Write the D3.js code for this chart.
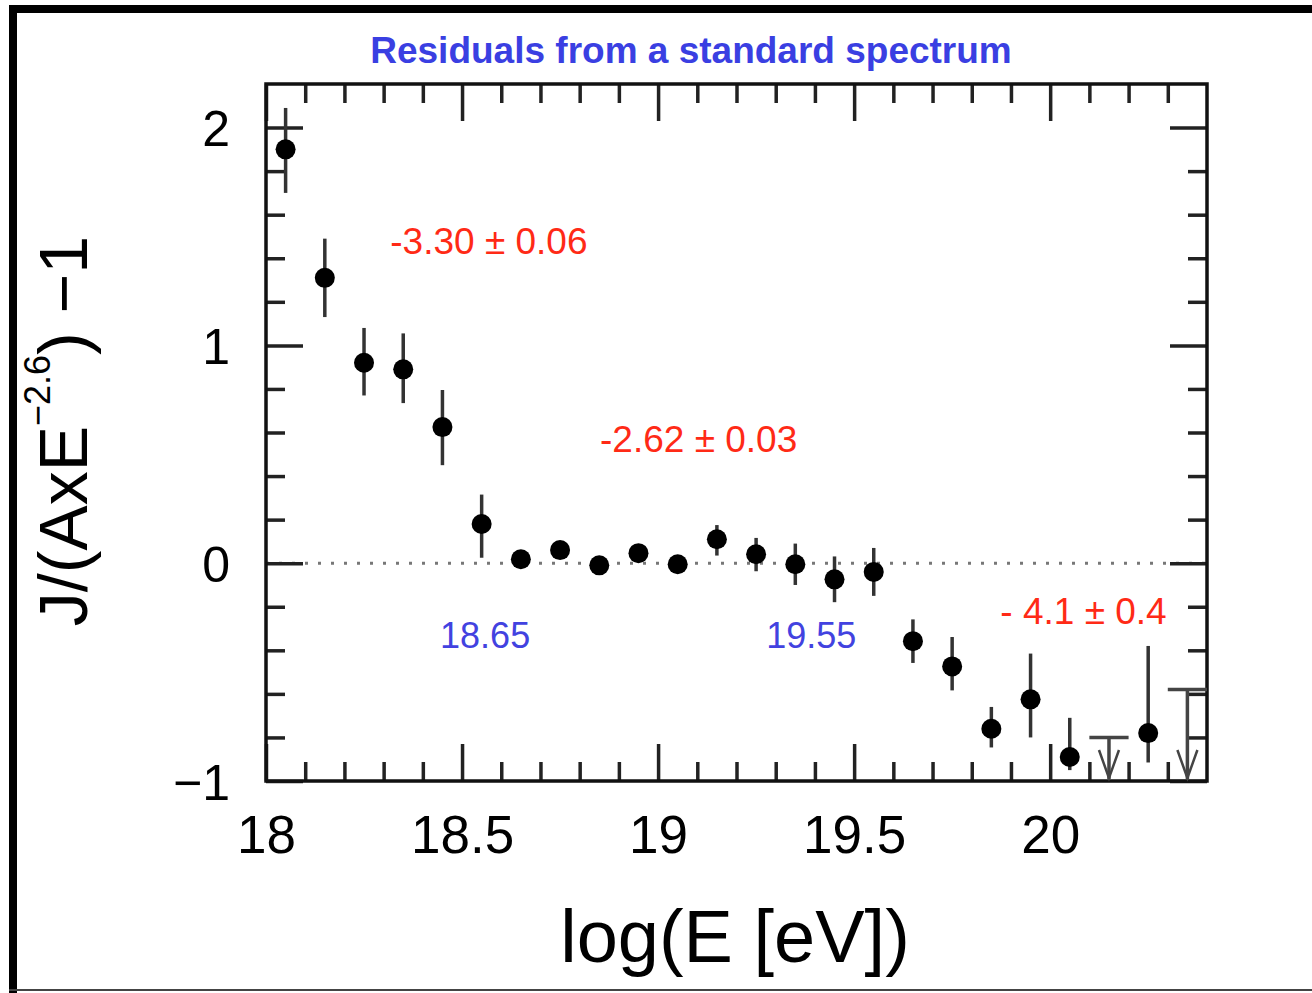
<!DOCTYPE html>
<html>
<head>
<meta charset="utf-8">
<script src="https://cdn.jsdelivr.net/npm/d3@7"></script>
<style>
  html, body { margin: 0; padding: 0; background: #fff; }
  svg { display: block; }
  text { font-family: "Liberation Sans", Arial, Helvetica, sans-serif; }
</style>
</head>
<body>
<svg id="chart" width="1312" height="993"></svg>
<script>
// ---- data ----
const logE   = [18.05, 18.15, 18.25, 18.35, 18.45, 18.55, 18.65, 18.75, 18.85, 18.95, 19.05,
                19.15, 19.25, 19.35, 19.45, 19.55, 19.65, 19.75, 19.85, 19.95, 20.05, 20.25];
const resid  = [1.90, 1.31, 0.92, 0.89, 0.625, 0.18, 0.018, 0.06, -0.01, 0.046, -0.005,
                0.11, 0.041, -0.005, -0.074, -0.04, -0.358, -0.474, -0.76, -0.625, -0.89, -0.78];
const errHi  = [0.19, 0.18, 0.16, 0.165, 0.17, 0.135, 0.03, 0.03, 0.03, 0.03, 0.03,
                0.065, 0.075, 0.095, 0.105, 0.11, 0.10, 0.135, 0.10, 0.21, 0.18, 0.40];
const errLo  = [0.20, 0.18, 0.15, 0.155, 0.175, 0.155, 0.03, 0.03, 0.03, 0.03, 0.03,
                0.075, 0.078, 0.095, 0.105, 0.11, 0.10, 0.11, 0.086, 0.175, 0.06, 0.135];
const limitE   = [20.15, 20.35];
const limitVal = [-0.80, -0.58];

const xMajorTicks = [18, 18.5, 19, 19.5, 20];
const xTickLabels = ["18", "18.5", "19", "19.5", "20"];
const yMajorTicks = [-1, 0, 1, 2];
const yTickLabels = ["\u22121", "0", "1", "2"];

const slopeLabels = [
  { text: "-3.30 \u00b1 0.06", x: 18.317, y: 1.42 },
  { text: "-2.62 \u00b1 0.03", x: 18.852, y: 0.51 },
  { text: "- 4.1 \u00b1 0.4",  x: 19.873, y: -0.28 }
];
const breakLabels = [
  { text: "18.65", x: 18.444, y: -0.39 },
  { text: "19.55", x: 19.276, y: -0.39 }
];
const title = "Residuals from a standard spectrum";

// ---- layout ----
const svg = d3.select("#chart");
const L = 266, R = 1207, T = 84, B = 781;

const x = d3.scaleLinear().domain([18, 20.4]).range([L, R]);
const y = d3.scaleLinear().domain([-1, 2.2]).range([B, T]);

// outer frame (picture border)
svg.append("line").attr("x1", 13).attr("x2", 13).attr("y1", 5).attr("y2", 993)
  .attr("stroke", "#000").attr("stroke-width", 8);
svg.append("line").attr("x1", 9).attr("x2", 1312).attr("y1", 9).attr("y2", 9)
  .attr("stroke", "#000").attr("stroke-width", 8);
svg.append("line").attr("x1", 9).attr("x2", 1312).attr("y1", 990).attr("y2", 990)
  .attr("stroke", "#444").attr("stroke-width", 2);

// title
svg.append("text").attr("x", 691).attr("y", 63).attr("text-anchor", "middle")
  .attr("font-size", 37).attr("font-weight", "bold").attr("fill", "#3a3fe2")
  .text(title);

// zero dotted line
svg.append("line").attr("x1", L).attr("x2", R).attr("y1", y(0)).attr("y2", y(0))
  .attr("stroke", "#777").attr("stroke-width", 3).attr("stroke-dasharray", "3,10");

// axes
const xMinor = d3.range(18.1, 20.35, 0.1).map(v => Math.round(v * 10) / 10)
  .filter(v => !xMajorTicks.includes(v));
const yMinor = d3.range(-0.8, 2.15, 0.2).map(v => Math.round(v * 10) / 10)
  .filter(v => !yMajorTicks.includes(v));

function styleAxis(g) {
  g.select(".domain").remove();
  g.selectAll(".tick line").attr("stroke", "#222").attr("stroke-width", 3.5);
  g.selectAll("text").attr("font-family", "'Liberation Sans', Arial, sans-serif").attr("fill", "#000");
}

// bottom
svg.append("g").attr("transform", `translate(0,${B})`)
  .call(d3.axisBottom(x).tickValues(xMajorTicks).tickSize(-37).tickPadding(34)
    .tickFormat((d, i) => xTickLabels[i]))
  .call(styleAxis)
  .call(g => g.selectAll("text").attr("font-size", 53));
svg.append("g").attr("transform", `translate(0,${B})`)
  .call(d3.axisBottom(x).tickValues(xMinor).tickSize(-19).tickFormat(""))
  .call(styleAxis);
// top
svg.append("g").attr("transform", `translate(0,${T})`)
  .call(d3.axisTop(x).tickValues(xMajorTicks).tickSize(-37).tickFormat(""))
  .call(styleAxis);
svg.append("g").attr("transform", `translate(0,${T})`)
  .call(d3.axisTop(x).tickValues(xMinor).tickSize(-19).tickFormat(""))
  .call(styleAxis);
// left
svg.append("g").attr("transform", `translate(${L},0)`)
  .call(d3.axisLeft(y).tickValues(yMajorTicks).tickSize(-37).tickPadding(36)
    .tickFormat((d, i) => yTickLabels[i]))
  .call(styleAxis)
  .call(g => g.selectAll("text").attr("font-size", 50).attr("dy", "0.36em"));
svg.append("g").attr("transform", `translate(${L},0)`)
  .call(d3.axisLeft(y).tickValues(yMinor).tickSize(-19).tickFormat(""))
  .call(styleAxis);
// right
svg.append("g").attr("transform", `translate(${R},0)`)
  .call(d3.axisRight(y).tickValues(yMajorTicks).tickSize(-37).tickFormat(""))
  .call(styleAxis);
svg.append("g").attr("transform", `translate(${R},0)`)
  .call(d3.axisRight(y).tickValues(yMinor).tickSize(-19).tickFormat(""))
  .call(styleAxis);

// plot frame
svg.append("rect").attr("x", L).attr("y", T).attr("width", R - L).attr("height", B - T)
  .attr("fill", "none").attr("stroke", "#111").attr("stroke-width", 3.5);

// error bars
const pts = logE.map((e, i) => ({ e, v: resid[i], hi: errHi[i], lo: errLo[i] }));
svg.append("g").selectAll("line").data(pts).join("line")
  .attr("x1", d => x(d.e)).attr("x2", d => x(d.e))
  .attr("y1", d => y(d.v + d.hi)).attr("y2", d => y(d.v - d.lo))
  .attr("stroke", "#333").attr("stroke-width", 3.5);
// points
svg.append("g").selectAll("circle").data(pts).join("circle")
  .attr("cx", d => x(d.e)).attr("cy", d => y(d.v)).attr("r", 10).attr("fill", "#000");

// upper limits
const lims = limitE.map((e, i) => ({ e, v: limitVal[i] }));
const lg = svg.append("g").attr("stroke", "#444").attr("stroke-width", 3.5).attr("fill", "none");
lims.forEach(d => {
  lg.append("line").attr("x1", x(d.e - 0.05)).attr("x2", Math.min(x(d.e + 0.05), R))
    .attr("y1", y(d.v)).attr("y2", y(d.v));
  lg.append("line").attr("x1", x(d.e)).attr("x2", x(d.e)).attr("y1", y(d.v)).attr("y2", B - 2);
  lg.append("path").attr("stroke-width", 2.5)
    .attr("d", `M${x(d.e) - 10},${B - 31} L${x(d.e)},${B - 3} L${x(d.e) + 10},${B - 31}`);
});

// annotations
svg.append("g").selectAll("text").data(slopeLabels).join("text")
  .attr("x", d => x(d.x)).attr("y", d => y(d.y))
  .attr("font-size", 37).attr("fill", "#ff2a16").text(d => d.text);
svg.append("g").selectAll("text").data(breakLabels).join("text")
  .attr("x", d => x(d.x)).attr("y", d => y(d.y))
  .attr("font-size", 36).attr("fill", "#4242e0").text(d => d.text);

// axis titles
svg.append("text").attr("x", 735).attr("y", 962).attr("text-anchor", "middle")
  .attr("font-size", 74).attr("fill", "#000").text("log(E [eV])");

const yt = svg.append("text").attr("transform", "translate(87,431) rotate(-90)")
  .attr("text-anchor", "middle").attr("font-size", 68).attr("fill", "#000");
yt.append("tspan").text("J/(AxE");
yt.append("tspan").attr("dy", -37).attr("font-size", 36).text("\u22122.6");
yt.append("tspan").attr("dy", 37).text(") \u22121");
</script>
</body>
</html>
